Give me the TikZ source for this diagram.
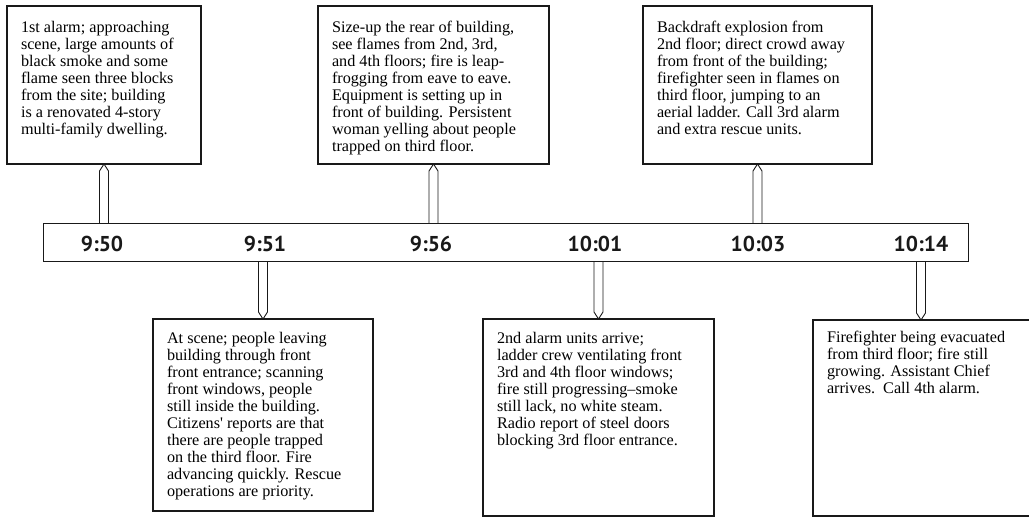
\documentclass[tikz,border=0pt]{standalone}
\usepackage{fontspec}
\setmainfont{Liberation Serif}
\newfontfamily\timefont{PT Sans}
\usetikzlibrary{calc}
\newcommand\boxtext[3]{\parbox[c][#2][t]{#1}{#3}}
\begin{document}
\begin{tikzpicture}[x=1pt,y=-1pt,
  tbox/.style={draw=black!90, line width=1.2pt, anchor=north west, outer sep=0pt,
    inner xsep=14pt, inner ysep=15pt, font=\fontsize{16.2}{17}\selectfont},
  bar/.style={draw=black!90, line width=1pt, anchor=north west, outer sep=0pt, inner sep=0pt,
    minimum width=925pt, minimum height=38pt},
  tlabel/.style={font=\timefont\bfseries\fontsize{21.5}{22}\selectfont, inner sep=0pt, text=black!90},
  conn/.style={draw=black!90, line width=0.9pt, to path={let \p1=(\tikztostart), \p2=(\tikztotarget),
    \n1={7*sign(\y1-\y2)} in
    ({\x2-4.5pt},\y1) -- ({\x2-4.5pt},{\y2+\n1*1pt}) -- (\x2,\y2) --
    ({\x2+4.5pt},{\y2+\n1*1pt}) -- ({\x2+4.5pt},\y1)}}
]
\useasboundingbox (0,0) rectangle (1029,517);

% timeline bar
\node[bar] (bar) at (43,223) {};
\node[tlabel] (t1) at (102,244) {9:50};
\node[tlabel] (t2) at (265,244) {9:51};
\node[tlabel] (t3) at (431,244) {9:56};
\node[tlabel] (t4) at (595,244) {10:01};
\node[tlabel] (t5) at (758,244) {10:03};
\node[tlabel] (t6) at (921,244) {10:14};

% top boxes
\node[tbox] (b1) at (7,6) {\boxtext{166pt}{128pt}{%
1st alarm; approaching\\
scene, large amounts of\\
black smoke and some\\
flame seen three blocks\\
from the site; building\\
is a renovated 4-story\\
multi-family dwelling.}};

\node[tbox] (b2) at (318,6) {\boxtext{203pt}{128pt}{%
Size-up the rear of building,\\
see flames from 2nd, 3rd,\\
and 4th floors; fire is leap-\\
frogging from eave to eave.\\
Equipment is setting up in\\
front of building. Persistent\\
woman yelling about people\\
trapped on third floor.}};

\node[tbox] (b3) at (643,6) {\boxtext{201pt}{128pt}{%
Backdraft explosion from\\
2nd floor; direct crowd away\\
from front of the building;\\
firefighter seen in flames on\\
third floor, jumping to an\\
aerial ladder. Call 3rd alarm\\
and extra rescue units.}};

% bottom boxes
\node[tbox, inner ysep=13pt] (b4) at (153,319) {\boxtext{192pt}{166pt}{%
At scene; people leaving\\
building through front\\
front entrance; scanning\\
front windows, people\\
still inside the building.\\
Citizens\textquotesingle{} reports are that\\
there are people trapped\\
on the third floor. Fire\\
advancing quickly. Rescue\\
operations are priority.}};

\node[tbox, inner ysep=13pt] (b5) at (483,319) {\boxtext{203pt}{171pt}{%
2nd alarm units arrive;\\
ladder crew ventilating front\\
3rd and 4th floor windows;\\
fire still progressing–smoke\\
still lack, no white steam.\\
Radio report of steel doors\\
blocking 3rd floor entrance.}};

\node[tbox, inner ysep=11pt] (b6) at (813,320) {\boxtext{250pt}{174pt}{%
Firefighter being evacuated\\
from third floor; fire still\\
growing. Assistant Chief\\
arrives.\ \ Call 4th alarm.}};

% connectors
\draw[conn] (b1.south |- bar.north) to (b1.south);
\draw[conn] (b2.south |- bar.north) to (b2.south);
\draw[conn] (b3.south |- bar.north) to (b3.south);
\draw[conn] (b4.north |- bar.south) to (b4.north);
\draw[conn] (b5.north |- bar.south) to (b5.north);
\draw[conn] (t6 |- bar.south) to (t6 |- b6.north);
\end{tikzpicture}
\end{document}
